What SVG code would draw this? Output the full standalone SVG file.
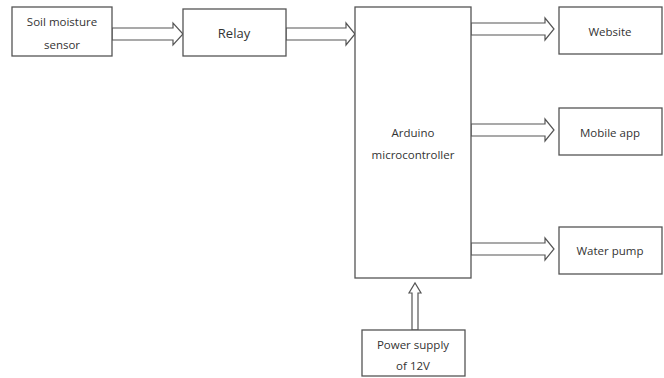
<svg xmlns="http://www.w3.org/2000/svg" width="664" height="378" viewBox="0 0 664 378">
<style>
.box{fill:#fff;stroke:#555;stroke-width:1.3}
.arr{fill:#fff;stroke:#555;stroke-width:1.2;stroke-linejoin:miter}
text{font-family:"Open Sans","Liberation Sans",sans-serif;font-size:11.5px;fill:#333;text-anchor:middle}
</style>
<rect width="664" height="378" fill="#fff"/>
<g id="connectors">
<polygon class="arr" points="112,28 173,28 173,23 183,34 173,45 173,40 112,40"/>
<polygon class="arr" points="286,28 346,28 346,23 355,34 346,45 346,40 286,40"/>
<polygon class="arr" points="471,23 545,23 545,18 554,29 545,40 545,35 471,35"/>
<polygon class="arr" points="471,124 545,124 545,119 554,130 545,141 545,136 471,136"/>
<polygon class="arr" points="471,243 545,243 545,238 554,249 545,260 545,255 471,255"/>
<polygon class="arr" points="412,330 412,293 409,293 415,283 421,293 418,293 418,330"/>
</g>
<g id="soil"><rect class="box" x="12" y="7" width="100" height="49"/><text x="62" y="26">Soil moisture</text><text x="62" y="49">sensor</text></g>
<g id="relay"><rect class="box" x="183" y="9" width="103" height="47"/><text x="234" y="38" style="font-size:13px">Relay</text></g>
<g id="arduino"><rect class="box" x="355" y="7" width="116" height="271"/><text x="413" y="137">Arduino</text><text x="413" y="159">microcontroller</text></g>
<g id="website"><rect class="box" x="559" y="7" width="103" height="47"/><text x="610" y="36">Website</text></g>
<g id="mobile"><rect class="box" x="559" y="108" width="103" height="47"/><text x="610" y="137">Mobile app</text></g>
<g id="pump"><rect class="box" x="559" y="227" width="103" height="47"/><text x="610" y="255">Water pump</text></g>
<g id="power"><rect class="box" x="362" y="330" width="103" height="46"/><text x="413" y="349">Power supply</text><text x="413" y="370">of 12V</text></g>
</svg>
